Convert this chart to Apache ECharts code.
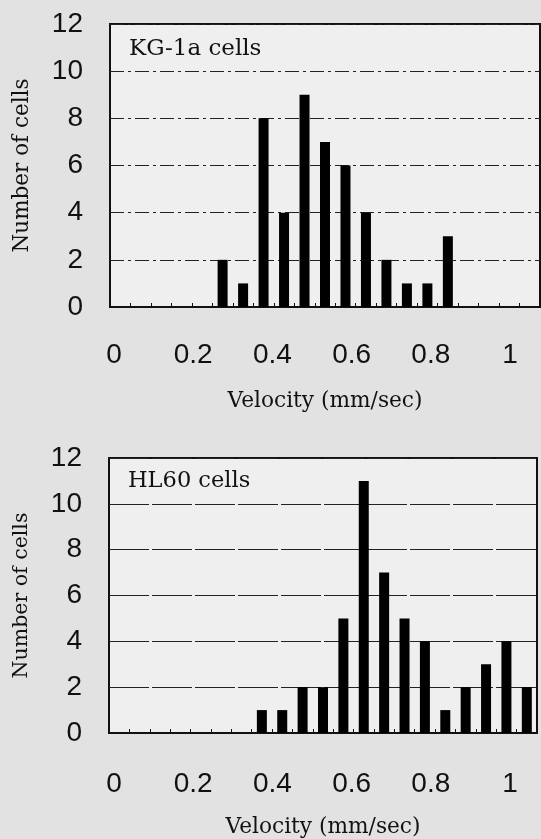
<!DOCTYPE html>
<html>
<head>
<meta charset="utf-8">
<script src="https://cdn.jsdelivr.net/npm/echarts@6/dist/echarts.min.js"></script>
<style>
html,body{margin:0;padding:0;background:#e2e2e2;}
#chart{width:541px;height:839px;}
</style>
</head>
<body>
<div id="chart"></div>
<script>
// Velocity bins (mm/sec)
const categories = ['0','0.05','0.1','0.15','0.2','0.25','0.3','0.35','0.4','0.45','0.5','0.55','0.6','0.65','0.7','0.75','0.8','0.85','0.9','0.95','1'];
// KG-1a cells: number of cells per bin
const kgValues = [0,0,0,0,0,2,1,8,4,9,7,6,4,2,1,1,3,0,0,0,0];
// HL60 cells: number of cells per bin
const hlValues = [0,0,0,0,0,0,0,1,1,2,2,5,11,7,5,4,1,2,3,4,2];
// Tick labels
const xTickLabels = ['0','0.2','0.4','0.6','0.8','1'];
const yMin = 0, yMax = 12, yStep = 2;

const numFont = "'Liberation Sans Narrow', 'Liberation Sans', Arial, sans-serif";
const serif = "'DejaVu Serif', 'Liberation Serif', serif";
const ink = '#111';

const chart = echarts.init(document.getElementById('chart'), null, {renderer:'canvas'});

function catAxis(gridIndex){
  return {
    type:'category', gridIndex, data:categories, boundaryGap:true,
    axisLine:{show:true, lineStyle:{color:ink, width:2}},
    axisTick:{show:true, inside:true, length:4, interval:0, lineStyle:{color:ink, width:1}},
    axisLabel:{show:false},
    name:'Velocity (mm/sec)', nameLocation:'middle', nameGap:83,
    nameTextStyle:{fontFamily:serif, fontSize:21.7, color:ink}
  };
}
function labelAxis(gridIndex){
  return {
    type:'category', gridIndex, data:xTickLabels, boundaryGap:false,
    axisLine:{show:false}, axisTick:{show:false},
    axisLabel:{show:true, interval:0, margin:34, fontFamily:numFont, fontSize:28, color:ink}
  };
}
function valAxis(gridIndex, splitType, titleSize){
  return {
    type:'value', gridIndex, min:yMin, max:yMax, interval:yStep,
    axisLine:{show:false}, axisTick:{show:false},
    axisLabel:{margin:27, fontFamily:numFont, fontSize:28, color:ink},
    splitLine:{show:true, lineStyle:{color:'#222', width:1, type:splitType}},
    name:'Number of cells', nameLocation:'middle', nameGap:77, nameRotate:90,
    nameTextStyle:{fontFamily:serif, fontSize:titleSize, color:ink}
  };
}
function hiddenY(gridIndex){
  return {type:'value', gridIndex, min:0, max:1, show:false};
}

const option = {
  backgroundColor:'#e2e2e2',
  animation:false,
  title:[
    {text:'KG-1a cells', left:129, top:38, padding:0,
     textStyle:{fontFamily:serif, fontSize:23, fontWeight:'normal', color:ink}},
    {text:'HL60 cells', left:128, top:470, padding:0,
     textStyle:{fontFamily:serif, fontSize:22.5, fontWeight:'normal', color:ink}}
  ],
  grid:[
    {left:110, top:24, width:430, height:283, show:true, backgroundColor:'#efefef', borderColor:ink, borderWidth:2},
    {left:114, top:24, width:396, height:283, show:false},
    {left:109, top:458, width:428, height:278, show:true, backgroundColor:'#efefef', borderColor:ink, borderWidth:2},
    {left:114, top:458, width:396, height:278, show:false}
  ],
  xAxis:[catAxis(0), labelAxis(1), catAxis(2), labelAxis(3)],
  yAxis:[valAxis(0,[14,4,3,4],21.5), hiddenY(1), valAxis(2,[40,3],20.5), hiddenY(3)],
  series:[
    {type:'bar', xAxisIndex:0, yAxisIndex:0, data:kgValues, barWidth:10, itemStyle:{color:'#000'}},
    {type:'bar', xAxisIndex:2, yAxisIndex:2, data:hlValues, barWidth:10, itemStyle:{color:'#000'}}
  ]
};
chart.setOption(option);
</script>
</body>
</html>
